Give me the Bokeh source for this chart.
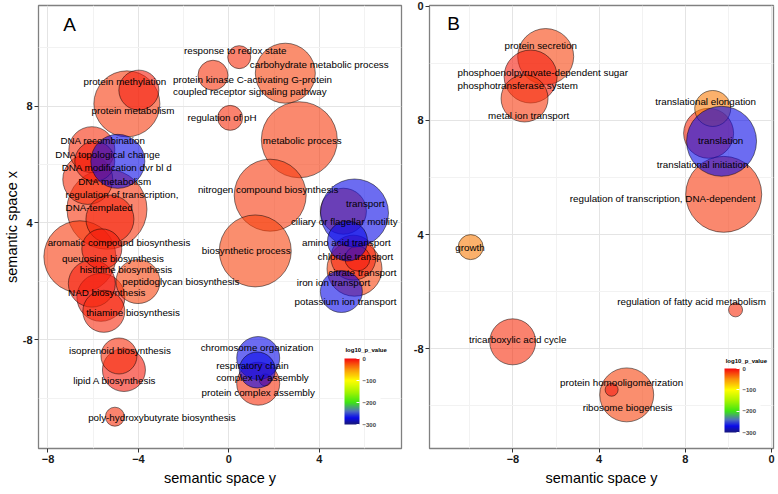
import numpy as np
from bokeh.plotting import figure
from bokeh.models import (ColumnDataSource, LinearColorMapper, ColorBar, FixedTicker, Range1d,
                          AllLabels)
from bokeh.layouts import row
from bokeh.embed import file_html
from bokeh.resources import INLINE
from bokeh.core.properties import value
from bokeh.transform import transform

# ---------------- Panel A data ----------------
a_bx = [0.46, 2.50, -0.70, 0.06, 3.12, 1.83, 1.17, -4.51, -3.98, 5.56, 5.07, 5.25, 5.51, 5.69, 5.56, 4.98,
        1.30, 1.26, 1.30, 1.61, -4.86, -4.64, -5.04, -6.59, -5.62, -6.06, -4.02, -5.66, -5.53,
        -4.91, -6.06, -5.93, -6.24, -5.39, -5.26]
a_by = [9.68, 9.13, 9.06, 7.60, 6.85, 4.95, 3.04, 8.08, 8.55, 4.34, 4.40, 3.38, 2.81, 2.78, 2.43, 1.65,
        -0.63, -1.04, -1.51, -1.38, -0.56, -1.04, -2.64, 2.84, 3.11, 1.92, 1.99, 1.45, 0.97,
        6.11, 6.51, 6.11, 5.49, 4.47, 4.13]
a_size = [1.15, 3.0, 1.5, 1.25, 3.8, 3.6, 3.6, 3.3, 2.0, 3.4, 2.3, 2.0, 2.25, 1.25, 2.75, 2.1,
          2.15, 1.8, 2.15, 0.6, 1.8, 2.15, 0.95, 3.6, 2.0, 2.35, 2.2, 2.4, 2.1,
          2.7, 2.3, 2.0, 2.5, 4.0, 2.4]
a_pval = [-14, -20, -16, -14, -18, -17, -20, -18, -8, -270, -20, -270, -10, -6, -20, -270,
          -270, -270, -15, -6, -14, -8, -15, -18, -8, -8, -20, -6, -12,
          -270, -14, -6, -14, -16, -10]

a_lab = ["response to redox state", "carbohydrate metabolic process", "regulation of pH",
         "metabolic process", "nitrogen compound biosynthesis", "biosynthetic process", "transport",
         "ciliary or flagellar motility", "amino acid transport", "chloride transport", "citrate transport",
         "iron ion transport", "potassium ion transport", "chromosome organization", "protein complex assembly",
         "poly-hydroxybutyrate biosynthesis", "lipid A biosynthesis", "isoprenoid biosynthesis",
         "thiamine biosynthesis", "NAD biosynthesis", "peptidoglycan biosynthesis", "histidine biosynthesis",
         "queuosine biosynthesis", "aromatic compound biosynthesis", "DNA metabolism",
         "DNA modification dvr bl d", "DNA topological change", "DNA recombination", "protein metabolism",
         "protein methylation"]
a_lx = [0.28, 4.00, -0.30, 3.25, 1.74, 0.77, 6.04, 5.11, 5.20, 5.60, 5.91, 4.63, 5.16, 1.25, 1.30,
        -2.96, -5.04, -4.82, -4.24, -5.40, -2.12, -4.55, -5.13, -4.86, -5.04, -4.95, -5.35, -5.57, -4.24, -4.60]
a_ly = [9.91, 9.44, 7.60, 6.82, 5.15, 3.04, 4.68, 4.06, 3.32, 2.84, 2.30, 1.96, 1.31, -0.26, -1.82,
        -2.67, -1.41, -0.36, 0.94, 1.62, 1.99, 2.40, 2.77, 3.32, 5.43, 5.90, 6.34, 6.82, 7.84, 8.86]

# multi-line labels (left aligned block)
a_mlab = ["protein kinase C-activating G-protein\ncoupled receptor signaling pathway",
          "respiratory chain\ncomplex IV assembly",
          "regulation of transcription,\nDNA-templated"]
a_mlx = [-2.47, -0.56, -7.22]
a_mly = [8.71, -1.09, 4.76]

# ---------------- Panel B data ----------------
b_bx = [-6.48, -7.18, -7.46, 1.27, 1.08, 1.68, 1.78, -9.96, 2.33, -8.01, -2.72, -3.42]
b_by = [10.24, 9.54, 8.77, 8.42, 7.55, 7.27, 5.41, 3.56, 1.36, 0.24, -1.62, -1.44]
b_size = [2.8, 2.65, 2.35, 1.8, 2.5, 3.5, 3.8, 1.25, 0.7, 2.3, 2.7, 0.65]
b_pval = [-20, -8, -17, -42, -12, -270, -17, -42, -14, -14, -20, -6]

b_lab = ["protein secretion", "metal ion transport", "translational elongation", "translation",
         "translational initiation", "regulation of transcription, DNA-dependent", "growth",
         "regulation of fatty acid metabolism", "tricarboxylic acid cycle", "protein homooligomerization",
         "ribosome biogenesis"]
b_lx = [-6.71, -7.27, 0.94, 1.64, 0.80, -1.05, -9.99, 0.29, -7.78, -2.96, -2.68]
b_ly = [10.62, 8.17, 8.66, 7.30, 6.46, 5.27, 3.56, 1.64, 0.31, -1.20, -2.07]
b_mlab = ["phosphoenolpyruvate-dependent sugar\nphosphotransferase system"]
b_mlx = [-10.57]
b_mly = [9.45]

# ticks
a_xticks = [-8, -4, 0, 4]
a_yticks = [0, 4, 8]
a_ytick_labels = {0: "-8"}
b_xticks = [-8, -4, 0, 4]
b_xtick_labels = {-4: "4", 0: "8", 4: "0"}
b_yticks = [0, 4, 8, 12]
b_ytick_labels = {0: "-8", 12: "0"}
cb_ticks = [0, -100, -200, -300]
cb_title = "log10_p_value"

# ---------------- colour scale ----------------
stops_v = [-300, -270, -240, -200, -150, -100, -50, 0]
stops_c = [(25, 25, 120), (10, 10, 235), (80, 110, 190), (60, 230, 20), (170, 245, 0),
           (255, 255, 0), (250, 150, 10), (245, 10, 15)]
vals = np.linspace(-300, 0, 256)
pal = []
for v in vals:
    r = np.interp(v, stops_v, [c[0] for c in stops_c])
    g = np.interp(v, stops_v, [c[1] for c in stops_c])
    b = np.interp(v, stops_v, [c[2] for c in stops_c])
    pal.append("#%02x%02x%02x" % (int(r), int(g), int(b)))
mapper = LinearColorMapper(palette=pal, low=-300, high=0)

SIZE_PX = 20.0
FONT = "Liberation Sans"


def make_panel(width, height, xr, yr, borders, xticks, yticks, xminor, yminor, ylabel):
    p = figure(width=width, height=height, x_range=Range1d(*xr), y_range=Range1d(*yr),
               output_backend="svg", toolbar_location=None,
               min_border_left=borders[0], min_border_right=borders[1],
               min_border_top=borders[2], min_border_bottom=borders[3])
    p.background_fill_color = "white"
    p.border_fill_color = "white"
    p.outline_line_color = "#808080"
    p.outline_line_width = 1.3
    p.xaxis.ticker = FixedTicker(ticks=xticks, minor_ticks=xminor)
    p.yaxis.ticker = FixedTicker(ticks=yticks, minor_ticks=yminor)
    for g in (p.xgrid, p.ygrid):
        g.grid_line_color = "#e4e4e4"
        g.minor_grid_line_color = "#f2f2f2"
    for ax in (p.xaxis, p.yaxis):
        ax.axis_line_color = None
        ax.minor_tick_line_color = None
        ax.minor_tick_out = 0
        ax.major_tick_line_color = "#333333"
        ax.major_tick_out = 4
        ax.major_tick_in = 0
        ax.major_label_standoff = 2
        ax.major_label_text_font = FONT
        ax.major_label_text_font_size = "11px"
        ax.major_label_text_font_style = "bold"
        ax.major_label_text_color = "#1a1a1a"
        ax.axis_label_text_font = FONT
        ax.axis_label_text_font_size = "14.5px"
        ax.axis_label_text_font_style = "normal"
        ax.axis_label_text_color = "black"
        ax.axis_label_standoff = 4
    p.xaxis.axis_label = "semantic space y"
    if ylabel:
        p.yaxis.axis_label = ylabel
        p.yaxis.axis_label_standoff = 0
    return p


def add_bubbles(p, bx, by, size, pval):
    # less significant (red) terms first, larger first; highly significant (blue) on top
    order = sorted(range(len(bx)), key=lambda i: (pval[i] < -150, -size[i]))
    src = ColumnDataSource(dict(
        x=[bx[i] for i in order], y=[by[i] for i in order],
        d=[size[i] * SIZE_PX for i in order], pv=[pval[i] for i in order]))
    p.scatter(x="x", y="y", size="d", source=src, marker="circle",
              fill_color=transform("pv", mapper), fill_alpha=0.6,
              line_color="black", line_alpha=0.55, line_width=0.9)


def add_labels(p, lab, lx, ly, mlab, mlx, mly):
    s1 = ColumnDataSource(dict(x=lx, y=ly, t=lab))
    p.text(x="x", y="y", text="t", source=s1, text_font=value(FONT), text_font_size="9.8px",
           text_align="center", text_baseline="middle", text_color="black")
    s2 = ColumnDataSource(dict(x=mlx, y=mly, t=mlab))
    p.text(x="x", y="y", text="t", source=s2, text_font=value(FONT), text_font_size="9.8px",
           text_align="left", text_baseline="middle", text_color="black", text_line_height=1.15)


def add_colorbar(p, loc, h, tx, ty):
    cb = ColorBar(color_mapper=mapper, ticker=FixedTicker(ticks=cb_ticks), location=loc,
                  width=15, height=h, padding=1, major_label_policy=AllLabels(),
                  major_label_text_font_size="6px", major_label_text_font_style="bold",
                  major_label_text_font=FONT,
                  label_standoff=3, major_tick_line_color="white", major_tick_in=3, major_tick_out=0,
                  bar_line_color=None, background_fill_color="white", background_fill_alpha=1.0,
                  border_line_color=None)
    p.add_layout(cb)
    p.text(x=[tx], y=[ty], text=[cb_title], text_font=value(FONT), text_font_size="6px",
           text_font_style="bold", text_align="left", text_baseline="middle", text_color="black")


# ---------------- Panel A ----------------
pA = make_panel(403, 494, (-8.42, 7.64), (-3.73, 11.45), (35, 2, 3, 45),
                a_xticks, a_yticks, [-10, -6, -2, 2, 6], [-2, 2, 6, 10], "semantic space x")
pA.yaxis.major_label_overrides = a_ytick_labels
add_bubbles(pA, a_bx, a_by, a_size, a_pval)
add_labels(pA, a_lab, a_lx, a_ly, a_mlab, a_mlx, a_mly)
pA.text(x=[-7.04], y=[10.80], text=["A"], text_font=value(FONT), text_font_size="19px",
        text_align="center", text_baseline="middle", text_color="black")
add_colorbar(pA, (305, 23), 66, 5.16, -0.36)

# ---------------- Panel B ----------------
pB = make_panel(375, 494, (-11.87, 4.09), (-3.50, 12.03), (26, 5, 5, 46),
                b_xticks, b_yticks, [-10, -6, -2, 2], [-2, 2, 6, 10], None)
pB.xaxis.major_label_overrides = b_xtick_labels
pB.yaxis.major_label_overrides = b_ytick_labels
add_bubbles(pB, b_bx, b_by, b_size, b_pval)
add_labels(pB, b_lab, b_lx, b_ly, b_mlab, b_mlx, b_mly)
pB.text(x=[-10.75], y=[11.39], text=["B"], text_font=value(FONT), text_font_size="19px",
        text_align="center", text_baseline="middle", text_color="black")
add_colorbar(pB, (294, 15), 64, 1.87, -0.45)

layout = row(pA, pB)
open("out.html", "w").write(file_html(layout, INLINE))
